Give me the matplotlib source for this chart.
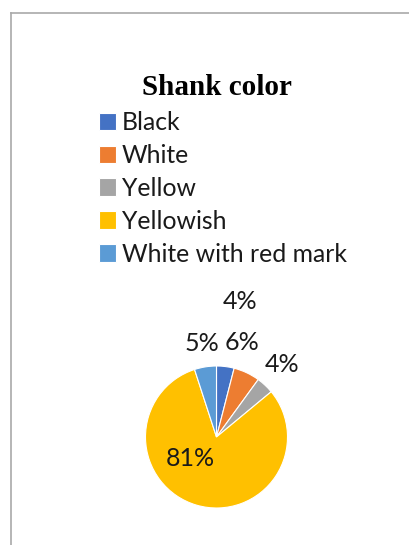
import matplotlib
matplotlib.use('Agg')
import matplotlib.pyplot as plt
from matplotlib.lines import Line2D
import numpy as np

#	-	-	-	-	-	DATA	-	-	-	-	-	#
categories = ['Black', 'White', 'Yellow', 'Yellowish', 'White with red mark']
shares = [4, 6, 4, 81, 5]
colors = ['#4472C4', '#ED7D31', '#A5A5A5', '#FFC000', '#5B9BD5']

#	label placement (distance from centre in radii, angle nudge in deg clockwise)
label_dist = [1.93, 1.38, 1.37, 0.47, 1.33]
label_nudge = [2.5, -10.4, -1.2, 34.8, 0.0]

TXT = ['Lato', 'DejaVu Sans']
W, H = 410, 545

#	-	-	-	-	-	FIGURE	-	-	-	-	-	#
fig = plt.figure(figsize=(W / 100, H / 100), dpi=100)

# chart area border (left and top only visible)
fig.add_artist(Line2D([11.5 / W, 11.5 / W], [0, 1 - 12.5 / H], transform=fig.transFigure,
                      color='#a9a9a9', lw=1.2))
fig.add_artist(Line2D([11.5 / W, 1], [1 - 12.5 / H, 1 - 12.5 / H], transform=fig.transFigure,
                      color='#a9a9a9', lw=1.2))

fig.text(217 / W, 1 - 87 / H, 'Shank color', ha='center', va='center',
         family='Liberation Serif', weight='bold', size=21, color='black')

#	pie axes: centre ~ (216.5, 437) px, radius ~71 px
cx, cy, r = 216.5, 437, 71
ax = fig.add_axes([(cx - r) / W, (H - cy - r) / H, 2 * r / W, 2 * r / H])
wedges, texts = ax.pie(shares, colors=colors, startangle=90, counterclock=False,
                       labels=[f'{s}%' for s in shares], labeldistance=1.0,
                       wedgeprops=dict(edgecolor='white', linewidth=0.8),
                       textprops=dict(family=TXT, size=18, color='#1a1a1a'))
ax.set_xlim(-1, 1)
ax.set_ylim(-1, 1)
ax.set_aspect('equal')

for w, t, d, n in zip(wedges, texts, label_dist, label_nudge):
	ang = np.deg2rad((w.theta1 + w.theta2) / 2 - n)
	t.set_position((d * np.cos(ang), d * np.sin(ang)))
	t.set_ha('center')
	t.set_va('center')

#	-	-	-	-	-	LEGEND	-	-	-	-	-	#
fig.legend(wedges, categories, loc='upper left', bbox_to_anchor=(99 / W, 1 - 111 / H),
           frameon=False, prop=dict(family=TXT, size=17.8),
           handlelength=0.7, handleheight=0.7, handletextpad=0.22,
           labelspacing=0.4, borderpad=0, borderaxespad=0, labelcolor='#1a1a1a')

fig.savefig('out.png', dpi=100, facecolor='white')
